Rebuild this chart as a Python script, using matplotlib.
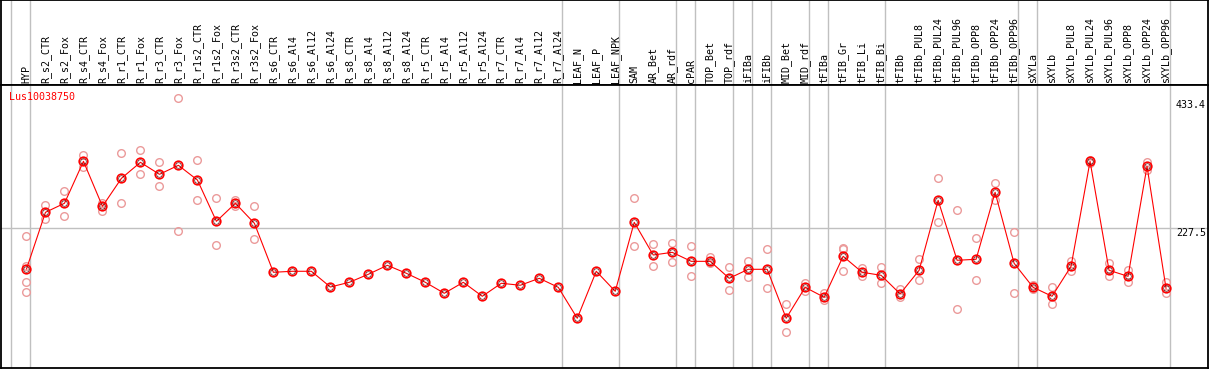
import numpy as np
import matplotlib
matplotlib.use('Agg')
import matplotlib.pyplot as plt

plt.rcParams['font.family'] = 'DejaVu Sans Mono'

# sample names along the x axis
samples = ['HYP', 'R_s2_CTR', 'R_s2_Fox', 'R_s4_CTR', 'R_s4_Fox', 'R_r1_CTR', 'R_r1_Fox',
           'R_r3_CTR', 'R_r3_Fox', 'R_r1s2_CTR', 'R_r1s2_Fox', 'R_r3s2_CTR', 'R_r3s2_Fox',
           'R_s6_CTR', 'R_s6_Al4', 'R_s6_Al12', 'R_s6_Al24', 'R_s8_CTR', 'R_s8_Al4',
           'R_s8_Al12', 'R_s8_Al24', 'R_r5_CTR', 'R_r5_Al4', 'R_r5_Al12', 'R_r5_Al24',
           'R_r7_CTR', 'R_r7_Al4', 'R_r7_Al12', 'R_r7_Al24', 'LEAF_N', 'LEAF_P', 'LEAF_NPK',
           'SAM', 'AR_Bet', 'AR_rdf', 'cPAR', 'TOP_Bet', 'TOP_rdf', 'iFIBa', 'iFIBb',
           'MID_Bet', 'MID_rdf', 'tFIBa', 'tFIB_Gr', 'tFIB_Li', 'tFIB_Bi', 'tFIBb',
           'tFIBb_PUL8', 'tFIBb_PUL24', 'tFIBb_PUL96', 'tFIBb_OPP8', 'tFIBb_OPP24',
           'tFIBb_OPP96', 'sXYLa', 'sXYLb', 'sXYLb_PUL8', 'sXYLb_PUL24', 'sXYLb_PUL96',
           'sXYLb_OPP8', 'sXYLb_OPP24', 'sXYLb_OPP96']

# mean expression per sample
means = [161.5, 252.7, 267.2, 334.7, 262.3, 307.4, 333.1, 313.8, 328.3, 304.6, 238.2,
         267.2, 235.0, 156.2, 157.8, 157.8, 132.5, 140.1, 153.0, 167.4, 154.6, 140.1,
         122.4, 140.1, 117.6, 138.5, 135.3, 146.5, 132.0, 82.2, 157.8, 125.6, 236.6,
         184.0, 188.3, 173.8, 173.8, 146.5, 161.0, 161.0, 82.2, 132.0, 116.0, 181.9,
         156.2, 151.3, 121.5, 159.4, 272.0, 175.5, 177.1, 284.9, 170.7, 132.0, 117.6,
         165.8, 334.7, 159.4, 149.7, 326.7, 130.4]

# replicate values per sample
replicates = [
    [214.1, 166.8, 140.1, 124.0], [264.0, 241.4], [286.5, 246.3], [344.4, 325.1],
    [267.2, 255.3], [347.6, 267.2], [352.4, 313.8], [333.1, 294.5], [436.1, 222.1],
    [336.3, 272.0], [275.2, 199.6], [272.0, 262.3], [262.3, 209.3],
    [], [], [], [], [], [], [], [], [], [], [], [], [], [], [], [],
    [], [], [],
    [275.2, 198.0], [201.2, 165.8], [202.8, 172.3], [198.0, 149.7], [180.3, 170.7],
    [164.2, 127.2], [173.8, 148.1], [193.2, 130.4], [104.7, 59.7], [138.5, 125.6],
    [122.4, 111.1], [194.8, 193.0, 157.8], [162.6, 149.7], [164.2, 138.5],
    [128.8, 116.0], [177.1, 143.3], [307.4, 236.6], [255.9, 96.7], [210.9, 143.3],
    [299.3, 272.0], [220.5, 122.4], [128.8, 135.3], [132.0, 104.7], [173.8, 157.8],
    [337.0, 332.0], [170.7, 149.7], [159.4, 140.1], [333.1, 320.2], [140.1, 122.4],
]

# first sample index of each tissue group (last entry closes the final group)
group_starts = [0, 1, 29, 32, 35, 36, 38, 39, 40, 42, 43, 46, 53, 54, 61]

gene = 'Lus10038750'
y_max = 433.4
y_mid = 227.5

W, H = 1209, 370
fig = plt.figure(figsize=(W / 100, H / 100), dpi=100)

head_px = 85
bot_px = 368
right_px = 1208
ax_h = fig.add_axes([0.5 / W, (H - head_px) / H, (right_px - 0.5) / W, head_px / H])
ax = fig.add_axes([0.5 / W, (H - bot_px) / H, (right_px - 0.5) / W, (bot_px - head_px) / H],
                  sharex=ax_h)

x = np.arange(len(samples))
slot = 19.0
x0 = -26 / slot
x1 = (right_px - 26) / slot
ax.set_xlim(x0, x1)
ax.set_ylim(2.2, 457.5)
ax_h.set_ylim(0, 1)

# group separators across both panels
sep_x = [g - 15 / slot for g in group_starts]
for a in (ax, ax_h):
    a.set_xticks([])
    a.set_yticks([])
    for s in a.spines.values():
        s.set_color('black')
        s.set_linewidth(1.3)
    lo, hi = a.get_ylim()
    a.vlines(sep_x, lo, hi, colors='#c0c0c0', lw=1, zorder=0.5)

ax.axhline(y_mid, color='#c0c0c0', lw=1, zorder=0.5)

# replicate points
rx = [i for i, r in enumerate(replicates) for _ in r]
ry = [v for r in replicates for v in r]
ax.plot(rx, ry, 'o', ms=5.5, mfc='none', mec='#eb9a9a', mew=1.0, zorder=2)

# mean line and markers
ax.plot(x, means, '-', color='red', lw=0.8, zorder=3)
ax.plot(x, means, 'o', ms=6.2, mfc='none', mec='red', mew=1.2, zorder=4)
ax.plot(x, means, 'o', ms=4, mfc='none', mec='#500000', mew=0.45, zorder=5)

# sample labels in the header
for i, s in enumerate(samples):
    ax_h.text(i, 0.025, s, rotation=90, ha='center', va='bottom', fontsize=7.2,
              color='black')

ax.text(9 / (right_px), 0.958, gene, transform=ax.transAxes, color='red',
        fontsize=7.2, ha='left', va='center')

lx = (1176 - 26) / slot
ax.text(lx, y_max, f'{y_max}', fontsize=7.2, ha='left', va='top')
ax.text(lx, y_mid, f'{y_mid}', fontsize=7.2, ha='left', va='top')
ax.annotate('0', xy=(lx + 3 / slot, 0), xytext=(0, 4), textcoords='offset pixels',
            fontsize=7.2, ha='left', va='bottom')

fig.savefig('out.png', dpi=100)
